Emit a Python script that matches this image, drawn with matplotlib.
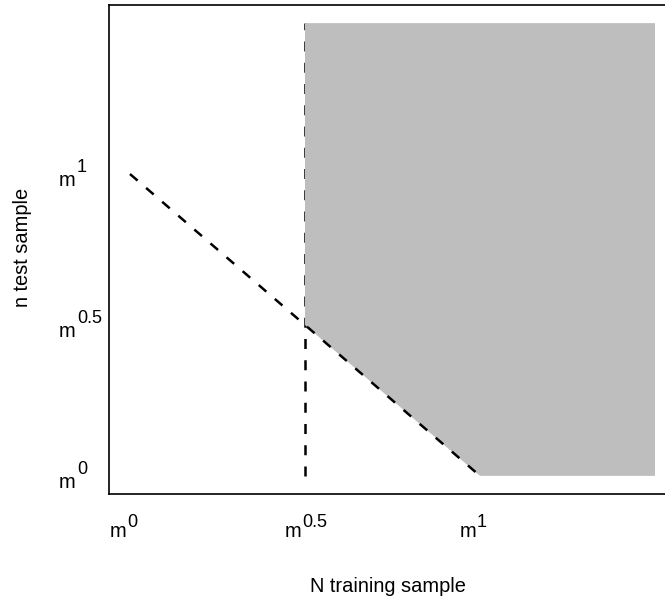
import matplotlib
matplotlib.use("Agg")
import matplotlib.pyplot as plt
from matplotlib.patches import Polygon
from matplotlib.transforms import ScaledTranslation

plt.rcParams['font.family'] = ['Liberation Sans', 'DejaVu Sans']

# Data (exponents of m)
tick_vals = [0, 0.5, 1]
tick_base = 'm'
tick_exps = ['0', '0.5', '1']
# boundary line: n = m^(1 - N)
diag_x = [0, 1]
diag_y = [1, 0]
# vertical boundary at N = m^0.5
vert_x = [0.5, 0.5]
vert_y = [0, 1.5]
# feasible (shaded) region
region_x = [0.5, 1.0, 1.5, 1.5, 0.5]
region_y = [0.5, 0.0, 0.0, 1.5, 1.5]
xlim = (-0.06, 1.56)
ylim = (-0.06, 1.56)

W, H, DPI = 665, 600, 100
fig = plt.figure(figsize=(W / DPI, H / DPI), dpi=DPI)
ax = fig.add_axes([109 / W, 106 / H, 567 / W, 489 / H])

dash = (0, (4, 4.5))
ax.plot(vert_x, vert_y, color='black', lw=1.8, linestyle=dash, zorder=1)
ax.add_patch(Polygon(list(zip(region_x, region_y)), closed=True,
                     facecolor='#BEBEBE', edgecolor='none', zorder=2))
ax.plot(diag_x, diag_y, color='black', lw=1.8, linestyle=dash, zorder=3)

ax.set_xlim(*xlim)
ax.set_ylim(*ylim)
ax.set_xticks(tick_vals)
ax.set_yticks(tick_vals)
ax.set_xticklabels([])
ax.set_yticklabels([])
ax.tick_params(length=0)
for s in ax.spines.values():
    s.set_linewidth(1.2)


def px(dx, dy):
    return ScaledTranslation(dx / DPI, dy / DPI, fig.dpi_scale_trans)


BASE_FS, EXP_FS = 14.5, 13
xtr = ax.get_xaxis_transform()
ytr = ax.get_yaxis_transform()
for v, e in zip(tick_vals, tick_exps):
    # x-axis labels
    ax.text(v, 0, tick_base, transform=xtr + px(-4, -43), ha='right',
            va='baseline', fontsize=BASE_FS)
    ax.text(v, 0, e, transform=xtr + px(-3, -33), ha='left',
            va='baseline', fontsize=EXP_FS)
    # y-axis labels
    ax.text(0, v, tick_base, transform=ytr + px(-50, -12), ha='left',
            va='baseline', fontsize=BASE_FS)
    ax.text(0, v, e, transform=ytr + px(-32, 2), ha='left',
            va='baseline', fontsize=EXP_FS)

fig.text(387.5 / W, 1 - 592 / H, 'N training sample', ha='center',
         va='baseline', fontsize=14.4)
fig.text(28 / W, 1 - 247 / H, 'n test sample', ha='center', va='baseline',
         rotation=90, rotation_mode='anchor', fontsize=14.4)

fig.savefig('out.png', dpi=DPI)
